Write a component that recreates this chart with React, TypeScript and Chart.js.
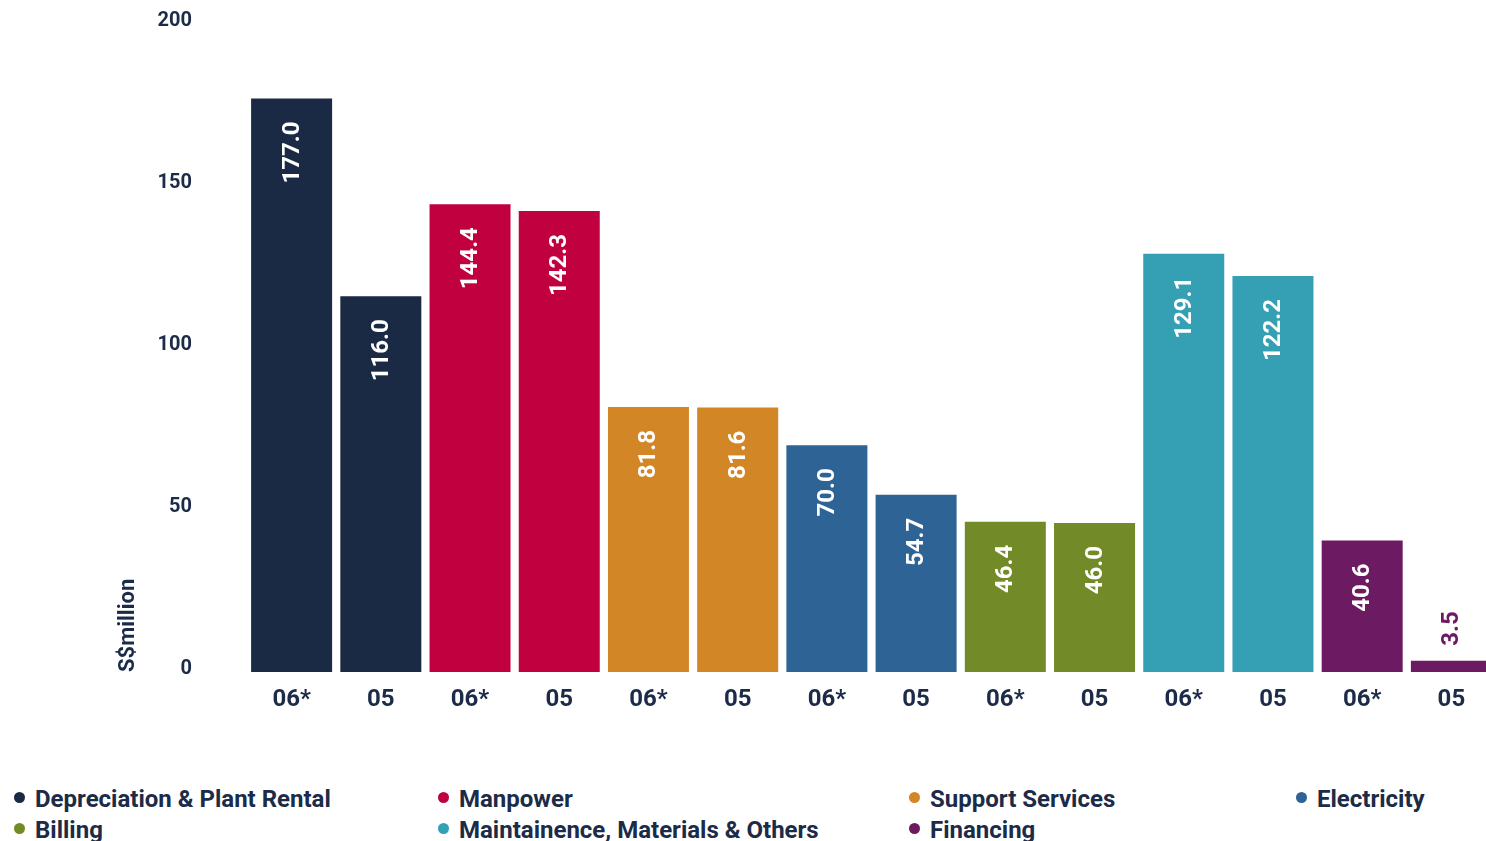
import React, { useEffect, useRef } from "react";
import Chart from "chart.js/auto";

const categories = ["06*", "05", "06*", "05", "06*", "05", "06*", "05", "06*", "05", "06*", "05", "06*", "05"];
const values = [177.0, 116.0, 144.4, 142.3, 81.8, 81.6, 70.0, 54.7, 46.4, 46.0, 129.1, 122.2, 40.6, 3.5];
const valueLabels = ["177.0", "116.0", "144.4", "142.3", "81.8", "81.6", "70.0", "54.7", "46.4", "46.0", "129.1", "122.2", "40.6", "3.5"];
const groupNames = [
  "Depreciation & Plant Rental",
  "Manpower",
  "Support Services",
  "Electricity",
  "Billing",
  "Maintainence, Materials & Others",
  "Financing",
];
const groupColors = ["#1a2944", "#c10040", "#d38626", "#2e6396", "#728a27", "#359fb4", "#6c1a61"];
const barGroup = [0, 0, 1, 1, 2, 2, 3, 3, 4, 4, 5, 5, 6, 6];
const yTicks = [0, 50, 100, 150, 200];
const yTitle = "S$million";

const NAVY = "#1b2b48";
const FONT = "Roboto";
const CANVAS_W = 1496;
const CANVAS_H = 760;

const legendCols = [35, 459, 930, 1317];
const legendRows = [799, 830];

const barLabelPlugin = {
  id: "barLabels",
  afterDatasetsDraw(chart: any) {
    const ctx = chart.ctx;
    const meta = chart.getDatasetMeta(0);
    ctx.save();
    ctx.font = `bold 24px ${FONT}`;
    ctx.textBaseline = "middle";
    meta.data.forEach((bar: any, i: number) => {
      const text = valueLabels[i];
      const w = ctx.measureText(text).width;
      const h = bar.base - bar.y;
      ctx.save();
      if (h > w + 35) {
        ctx.translate(bar.x, bar.y + 23);
        ctx.rotate(-Math.PI / 2);
        ctx.textAlign = "right";
        ctx.fillStyle = "#ffffff";
      } else {
        ctx.translate(bar.x, bar.y - 15);
        ctx.rotate(-Math.PI / 2);
        ctx.textAlign = "left";
        ctx.fillStyle = groupColors[barGroup[i]];
      }
      ctx.fillText(text, 0, 1);
      ctx.restore();
    });
    ctx.restore();
  },
};

export default function App() {
  const ref = useRef<HTMLCanvasElement | null>(null);

  useEffect(() => {
    if (!ref.current) return;
    const chart = new Chart(ref.current, {
      type: "bar",
      data: {
        labels: categories,
        datasets: [
          {
            data: values,
            backgroundColor: values.map((_, i) => groupColors[barGroup[i]]),
            borderWidth: 0,
            categoryPercentage: 1,
            barPercentage: 0.908,
          },
        ],
      },
      options: {
        animation: false,
        responsive: false,
        devicePixelRatio: 1,
        layout: { padding: { top: 24, left: 0, right: 0, bottom: 0 } },
        plugins: {
          legend: { display: false },
          tooltip: { enabled: false },
        },
        scales: {
          x: {
            grid: { display: false, drawTicks: false },
            border: { display: false },
            ticks: {
              color: NAVY,
              font: { family: FONT, size: 24, weight: "bold" },
              padding: 14,
              maxRotation: 0,
              autoSkip: false,
            },
            afterFit(scale: any) {
              scale.height = CANVAS_H - 672;
              scale.paddingLeft = 0;
              scale.paddingRight = 0;
            },
          },
          y: {
            min: 0,
            max: 200,
            afterBuildTicks(scale: any) {
              scale.ticks = yTicks.map((v) => ({ value: v }));
            },
            grid: { display: false, drawTicks: false },
            border: { display: false },
            ticks: {
              color: NAVY,
              font: { family: FONT, size: 20, weight: "bold" },
              padding: 55,
              labelOffset: -3,
            },
            title: {
              display: true,
              text: yTitle,
              align: "start",
              color: NAVY,
              font: { family: FONT, size: 22, weight: "bold" },
              padding: { top: 115, bottom: 0 },
            },
            afterFit(scale: any) {
              scale.width = 247;
              scale.paddingTop = 0;
              scale.paddingBottom = 0;
            },
          },
        },
      },
      plugins: [barLabelPlugin],
    } as any);
    return () => chart.destroy();
  }, []);

  const legendItems = groupNames.map((name, i) => {
    const row = i < 4 ? 0 : 1;
    const col = i < 4 ? i : i - 4;
    return (
      <div
        key={name}
        style={{
          position: "absolute",
          left: legendCols[col] - 21,
          top: legendRows[row] - 15,
          height: 30,
          display: "flex",
          alignItems: "center",
          whiteSpace: "nowrap",
        }}
      >
        <span
          style={{
            display: "inline-block",
            width: 11,
            height: 11,
            borderRadius: "50%",
            background: groupColors[i],
            marginRight: 10,
            marginTop: -4,
          }}
        />
        <span style={{ fontFamily: FONT, fontWeight: 700, fontSize: 24, color: NAVY }}>{name}</span>
      </div>
    );
  });

  return (
    <div
      style={{
        position: "fixed",
        left: 0,
        top: 0,
        width: 1486,
        height: 841,
        overflow: "hidden",
        background: "#ffffff",
      }}
    >
      <canvas
        ref={ref}
        width={CANVAS_W}
        height={CANVAS_H}
        style={{ position: "absolute", left: 0, top: 0, width: CANVAS_W, height: CANVAS_H }}
      />
      {legendItems}
    </div>
  );
}
